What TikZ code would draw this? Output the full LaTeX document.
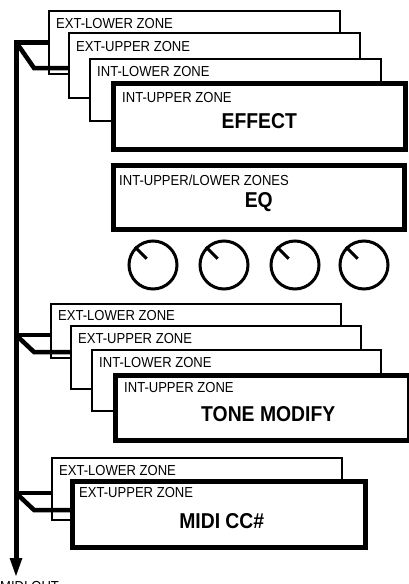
\documentclass[tikz,border=0pt]{standalone}
\usepackage{fontspec}
\setmainfont{Liberation Sans}[FakeStretch=0.9]
\usetikzlibrary{arrows.meta, positioning, calc}
\definecolor{inkblack}{HTML}{000000}

\begin{document}
\begin{tikzpicture}[x=1pt, y=-1pt,
    % ── Box styles ───────────────────────────────────────────────────────
    zonebox/.style={
        draw=inkblack, rectangle, fill=white, anchor=north west,
        inner sep=0pt, line width=2pt
    },
    frontbox/.style={zonebox, line width=4.5pt},
    zonelabel/.style={
        font=\fontsize{14.5}{16}\selectfont, text=inkblack,
        anchor=west, inner sep=0pt
    },
    titletext/.style={
        font=\fontsize{21.5}{24}\selectfont\bfseries, text=inkblack,
        inner sep=0pt
    },
    knob/.style={
        draw=inkblack, circle, line width=3pt,
        minimum size=48pt, inner sep=0pt
    },
    knobtick/.style={line width=3pt, color=inkblack},
    % ── Connector styles ─────────────────────────────────────────────────
    bus/.style={
        line width=5pt, color=inkblack,
        -{Triangle[length=20pt, width=11pt]}
    },
    link/.style={line width=4.5pt, color=inkblack, line join=miter}
]

\path[use as bounding box] (0,0) rectangle (409,584);
\clip (0,0) rectangle (409,584);

% ═══════════════════════════════════════════════════════════════════════
% 1. Effect stack
% ═══════════════════════════════════════════════════════════════════════
\node[zonebox, minimum width=291pt, minimum height=63pt] (extlowA) at (48,10) {};
\node[zonebox, minimum width=291pt, minimum height=65pt] (extupA) at (68,32) {};
\node[zonebox, minimum width=291pt, minimum height=62pt] (intlowA) at (89,58) {};
\node[frontbox, minimum width=292pt, minimum height=66pt] (intupA) at (111,81) {};

\node[zonelabel] at ([shift={(8pt,-14pt)}]extlowA.north west) {EXT-LOWER ZONE};
\node[zonelabel] at ([shift={(8pt,-15pt)}]extupA.north west) {EXT-UPPER ZONE};
\node[zonelabel] at ([shift={(8pt,-14pt)}]intlowA.north west) {INT-LOWER ZONE};
\node[zonelabel] at ([shift={(11pt,-17pt)}]intupA.north west) {INT-UPPER ZONE};
\node[titletext] (effect) at ([yshift=-5pt]intupA.center) {EFFECT};

% ═══════════════════════════════════════════════════════════════════════
% 2. EQ box and knobs
% ═══════════════════════════════════════════════════════════════════════
\node[frontbox, minimum width=291pt, minimum height=64pt] (eqbox) at (111,163) {};
\node[zonelabel] at ([shift={(8pt,-17pt)}]eqbox.north west) {INT-UPPER/LOWER ZONES};
\node[titletext] (eq) at ([yshift=-5pt]eqbox.center) {EQ};

\foreach \k/\kx in {1/153, 2/224, 3/295, 4/364} {
    \node[knob] (knob\k) at (\kx,265) {};
    \draw[knobtick] (knob\k.north west)
        -- ($(knob\k.center)!0.35!(knob\k.north west)$);
}

% ═══════════════════════════════════════════════════════════════════════
% 3. Tone modify stack
% ═══════════════════════════════════════════════════════════════════════
\node[zonebox, minimum width=290pt, minimum height=54pt] (extlowB) at (50,303) {};
\node[zonebox, minimum width=290pt, minimum height=63pt] (extupB) at (70,325) {};
\node[zonebox, minimum width=289pt, minimum height=61pt] (intlowB) at (91,349) {};
\node[frontbox, minimum width=294pt, minimum height=65pt] (intupB) at (113,373) {};

\node[zonelabel] at ([shift={(8pt,-13pt)}]extlowB.north west) {EXT-LOWER ZONE};
\node[zonelabel] at ([shift={(8pt,-14pt)}]extupB.north west) {EXT-UPPER ZONE};
\node[zonelabel] at ([shift={(8pt,-14pt)}]intlowB.north west) {INT-LOWER ZONE};
\node[zonelabel] at ([shift={(11pt,-15pt)}]intupB.north west) {INT-UPPER ZONE};
\node[titletext] (tonemod) at ([shift={(6pt,-6pt)}]intupB.center) {TONE MODIFY};

% ═══════════════════════════════════════════════════════════════════════
% 4. MIDI CC# stack
% ═══════════════════════════════════════════════════════════════════════
\node[zonebox, minimum width=290pt, minimum height=62pt] (extlowC) at (51,457) {};
\node[frontbox, minimum width=293pt, minimum height=66pt] (extupC) at (70,479) {};

\node[zonelabel] at ([shift={(8pt,-14pt)}]extlowC.north west) {EXT-LOWER ZONE};
\node[zonelabel] at ([shift={(9pt,-14pt)}]extupC.north west) {EXT-UPPER ZONE};
\node[titletext] (midicc) at ([shift={(3pt,-7pt)}]extupC.center) {MIDI CC\#};

% ═══════════════════════════════════════════════════════════════════════
% 5. Bus to MIDI out
% ═══════════════════════════════════════════════════════════════════════
\coordinate (hubA) at (16,42);
\coordinate (kneeA) at (34,68);
\coordinate (hubB) at (16,335);
\coordinate (kneeB) at (34,352);
\coordinate (hubC) at (16,493);
\coordinate (kneeC) at (34,510);
\coordinate (busend) at (16,578);

\node[zonelabel, anchor=north west] (midiout) at (0,581) {MIDI OUT};

\draw[bus] (hubA -| extlowA.west) -- (hubA) -- (busend);
\draw[link] (hubA) -- (kneeA) -- (kneeA -| extupA.west);
\draw[link] (hubB) -- (hubB -| extlowB.west);
\draw[link] (hubB) -- (kneeB) -- (kneeB -| extupB.west);
\draw[link] (hubC) -- (hubC -| extlowC.west);
\draw[link] (hubC) -- (kneeC) -- (kneeC -| extupC.west);

\end{tikzpicture}
\end{document}
